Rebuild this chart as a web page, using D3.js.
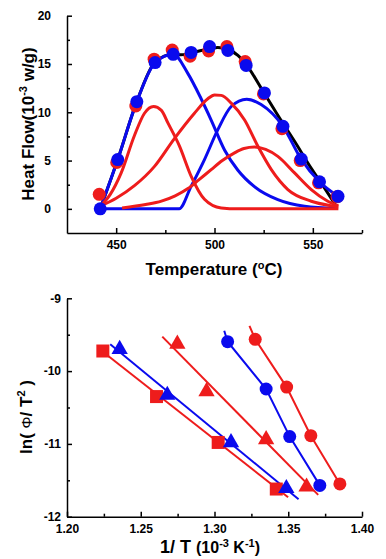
<!DOCTYPE html>
<html>
<head>
<meta charset="utf-8">
<script src="https://cdn.jsdelivr.net/npm/d3@7"></script>
<style>
  body { margin: 0; background: #fff; }
  svg text { font-family: "Liberation Sans", Arial, sans-serif; font-weight: bold; fill: #000; }
</style>
</head>
<body>
<div id="chart"></div>
<script>
/* ===== top panel: heat flow vs temperature ===== */
const tempC       = [441.9, 450.8, 460.5, 469.8, 479.0, 488.1, 497.5, 506.8, 516.1, 525.4, 534.8, 544.1, 553.4, 562.8];
const flowMeasured = [1.5, 4.8, 10.65, 15.5, 16.45, 15.8, 16.35, 16.8, 15.25, 11.9, 8.3, 5.0, 2.7, 1.25];
const flowFitted   = [0, 5.1, 11.1, 15.15, 16.0, 16.2, 16.8, 16.4, 14.85, 12.0, 8.55, 5.15, 2.8, 1.3];

// black envelope
const sumT = [441.9, 450.8, 460.5, 469.8, 479.0, 483.0, 493.2, 501.7, 506.8, 511.9, 517.0, 523.7, 532.2, 540.7, 549.2, 555.9, 561.9];
const sumV = [0, 5.1, 11.1, 15.2, 16.0, 15.95, 16.4, 16.7, 16.5, 15.9, 14.7, 12.5, 9.7, 7.0, 4.2, 2.17, 0.27];

// blue peaks
const blueAT = [441.9, 450.8, 460.5, 469.8, 479.0, 486.5, 493.2, 498.3, 505.1, 511.9, 520.3, 532.2, 545.8, 562.0];
const blueAV = [0, 5.1, 11.1, 15.15, 16.0, 14.0, 11.4, 9.2, 6.1, 4.0, 2.3, 0.95, 0.27, 0.05];
const blueBT = [441.9, 482.0, 488.1, 494.9, 501.7, 508.5, 516.4, 523.7, 534.8, 544.1, 553.4, 562.8];
const blueBV = [0, 0, 2.33, 5.1, 8.2, 10.6, 11.35, 10.8, 8.55, 5.15, 2.8, 1.3];

// red peaks
const red1T = [442.0, 447.0, 452.5, 459.3, 464.4, 469.0, 473.0, 476.3, 482.2, 488.1, 494.9, 503.4, 512.0, 563.0];
const red1V = [0.3, 1.5, 3.7, 7.6, 9.9, 10.6, 10.2, 8.9, 6.5, 3.4, 1.0, 0.1, 0, 0];
const red2T = [442.0, 450.0, 459.3, 469.5, 479.7, 489.8, 496.6, 500.0, 503.4, 508.5, 515.3, 522.0, 528.9, 537.3, 549.2, 561.0, 563.0];
const red2V = [0.3, 1.1, 2.4, 4.4, 7.3, 9.9, 11.4, 11.8, 11.75, 10.95, 9.2, 6.5, 4.06, 2.0, 0.79, 0.27, 0.2];
const red3T = [453.0, 465.0, 473.0, 480.0, 486.5, 492.0, 498.3, 504.0, 510.2, 515.0, 520.3, 526.0, 532.2, 540.7, 549.2, 557.6, 563.0];
const red3V = [0.1, 0.45, 0.8, 1.35, 2.1, 3.0, 4.06, 5.0, 5.8, 6.25, 6.4, 6.15, 5.43, 3.72, 2.0, 0.79, 0.3];

const topYTicks = [0, 5, 10, 15, 20];
const topYMinor = [2.5, 7.5, 12.5, 17.5];
const topXTicks = [450, 500, 550];
const topXMinor = [475, 525, 575];

/* ===== bottom panel: ln(phi/T^2) vs 1/T ===== */
const sqRedX  = [1.2243, 1.2607, 1.3025, 1.3419];
const sqRedY  = [-9.724, -10.35, -10.98, -11.62];
const sqRedLineX = [1.2215, 1.3499];
const sqRedLineY = [-9.69, -11.733];

const triBlueX = [1.2357, 1.2680, 1.3112, 1.3487];
const triBlueY = [-9.70, -10.33, -10.98, -11.61];
const triBlueLineX = [1.2293, 1.3570];
const triBlueLineY = [-9.632, -11.76];

const triRedX = [1.2748, 1.2946, 1.3350, 1.3624];
const triRedY = [-9.628, -10.28, -10.94, -11.59];
const triRedLineX = [1.2646, 1.3703];
const triRedLineY = [-9.527, -11.70];

const cirBlueX = [1.3089, 1.3350, 1.3510, 1.3714];
const cirBlueY = [-9.596, -10.246, -10.90, -11.57];
const cirBlueLineX = [1.3066, 1.3089, 1.3350, 1.3510, 1.3714];
const cirBlueLineY = [-9.445, -9.596, -10.246, -10.90, -11.57];

const cirRedX = [1.3276, 1.3489, 1.3653, 1.3850];
const cirRedY = [-9.563, -10.22, -10.887, -11.55];
const cirRedLineX = [1.3237, 1.3276, 1.3489, 1.3653, 1.3850];
const cirRedLineY = [-9.38, -9.563, -10.22, -10.887, -11.55];

const botYTicks = [-12, -11, -10, -9];
const botYMinor = [-11.5, -10.5, -9.5];
const botXTicks = [1.20, 1.25, 1.30, 1.35, 1.40];
const botXMinor = [1.225, 1.275, 1.325, 1.375];

const RED = '#ee1c1c';
const BLUE = '#0a0aee';

const zip = (xs, ys) => xs.map((x, i) => [x, ys[i]]);

const svg = d3.select('#chart')
    .append('svg')
    .attr('width', 386)
    .attr('height', 559);

function drawAxes(x, y, o) {
    const gy = svg.append('g').attr('transform', `translate(${x.range()[0]},0)`);
    gy.call(d3.axisLeft(y).tickValues(o.yTicks).tickSize(-5).tickSizeOuter(0)
        .tickPadding(o.yPad).tickFormat(d => String(d)));
    gy.append('g').call(d3.axisLeft(y).tickValues(o.yMinor).tickSize(-3).tickFormat(''))
        .select('.domain').remove();

    const gx = svg.append('g').attr('transform', `translate(0,${y.range()[0]})`);
    gx.call(d3.axisBottom(x).tickValues(o.xTicks).tickSize(-5).tickSizeOuter(0)
        .tickPadding(o.xPad).tickFormat(o.xFormat));
    gx.append('g').call(d3.axisBottom(x).tickValues(o.xMinor).tickSize(-3).tickFormat(''))
        .select('.domain').remove();

    [gy, gx].forEach(g => {
        g.selectAll('.domain, line').attr('stroke', '#000').attr('stroke-width', 1.5);
        g.selectAll('text').style('font-size', '12px');
    });
}

/* ---------- top panel ---------- */
const xTop = d3.scaleLinear().domain([425, 575]).range([67, 362]);
const yTop = d3.scaleLinear().domain([-2.5, 20]).range([233, 15.7]);

drawAxes(xTop, yTop, {
    yTicks: topYTicks, yMinor: topYMinor, yPad: 16,
    xTicks: topXTicks, xMinor: topXMinor, xPad: 7, xFormat: d3.format('d')
});

const lineTop = d3.line()
    .x(d => xTop(d[0]))
    .y(d => yTop(d[1]))
    .curve(d3.curveMonotoneX);

const topCurves = [
    { t: sumT, v: sumV, color: '#000' },
    { t: blueAT, v: blueAV, color: BLUE },
    { t: blueBT, v: blueBV, color: BLUE },
    { t: red1T, v: red1V, color: RED },
    { t: red2T, v: red2V, color: RED },
    { t: red3T, v: red3V, color: RED }
];

topCurves.forEach(c => {
    svg.append('path')
        .attr('d', lineTop(zip(c.t, c.v)))
        .attr('fill', 'none')
        .attr('stroke', c.color)
        .attr('stroke-width', 3)
        .attr('stroke-linejoin', 'round');
});

svg.append('g').selectAll('circle')
    .data(zip(tempC, flowMeasured))
    .enter().append('circle')
    .attr('cx', d => xTop(d[0]) - 1)
    .attr('cy', d => yTop(d[1]))
    .attr('r', 6.5)
    .attr('fill', RED);

svg.append('g').selectAll('circle')
    .data(zip(tempC, flowFitted))
    .enter().append('circle')
    .attr('cx', d => xTop(d[0]))
    .attr('cy', d => yTop(d[1]))
    .attr('r', 6.5)
    .attr('fill', BLUE);

// axis titles
const yTitleTop = svg.append('text')
    .attr('transform', 'translate(34,124) rotate(-90)')
    .attr('text-anchor', 'middle')
    .style('font-size', '17px');
yTitleTop.append('tspan').text('Heat Flow(10');
yTitleTop.append('tspan').attr('dy', -7).style('font-size', '11px').text('-3');
yTitleTop.append('tspan').attr('dy', 7).text('\u00a0w/g)');

const xTitleTop = svg.append('text')
    .attr('x', 214)
    .attr('y', 275)
    .attr('text-anchor', 'middle')
    .style('font-size', '17px');
xTitleTop.append('tspan').text('Temperature (');
xTitleTop.append('tspan').attr('dy', -6).style('font-size', '11px').text('o');
xTitleTop.append('tspan').attr('dy', 6).text('C)');

/* ---------- bottom panel ---------- */
const xBot = d3.scaleLinear().domain([1.20, 1.40]).range([67, 362]);
const yBot = d3.scaleLinear().domain([-12, -9]).range([516.7, 298.3]);

drawAxes(xBot, yBot, {
    yTicks: botYTicks, yMinor: botYMinor, yPad: 6,
    xTicks: botXTicks, xMinor: botXMinor, xPad: 8, xFormat: d3.format('.2f')
});

const lineBot = d3.line()
    .x(d => xBot(d[0]))
    .y(d => yBot(d[1]));

const botSeries = [
    { px: sqRedX, py: sqRedY, lx: sqRedLineX, ly: sqRedLineY, color: RED, shape: 'square' },
    { px: triBlueX, py: triBlueY, lx: triBlueLineX, ly: triBlueLineY, color: BLUE, shape: 'triangle' },
    { px: triRedX, py: triRedY, lx: triRedLineX, ly: triRedLineY, color: RED, shape: 'triangle' },
    { px: cirBlueX, py: cirBlueY, lx: cirBlueLineX, ly: cirBlueLineY, color: BLUE, shape: 'circle' },
    { px: cirRedX, py: cirRedY, lx: cirRedLineX, ly: cirRedLineY, color: RED, shape: 'circle' }
];

const symbols = {
    square: d3.symbol(d3.symbolSquare, 169),
    triangle: d3.symbol(d3.symbolTriangle, 115),
    circle: d3.symbol(d3.symbolCircle, Math.PI * 6.5 * 6.5)
};

botSeries.forEach(s => {
    svg.append('path')
        .attr('d', lineBot(zip(s.lx, s.ly)))
        .attr('fill', 'none')
        .attr('stroke', s.color)
        .attr('stroke-width', 2);
});

botSeries.forEach(s => {
    svg.append('g').selectAll('path')
        .data(zip(s.px, s.py))
        .enter().append('path')
        .attr('transform', d => `translate(${xBot(d[0])},${yBot(d[1])})`)
        .attr('d', symbols[s.shape])
        .attr('fill', s.color);
});

const yTitleBot = svg.append('text')
    .attr('transform', 'translate(32,417) rotate(-90)')
    .attr('text-anchor', 'middle')
    .style('font-size', '17px');
yTitleBot.append('tspan').text('ln(\u00a0');
yTitleBot.append('tspan').style('font-weight', 'normal').style('font-size', '15px').text('\u03a6');
yTitleBot.append('tspan').text('/ T');
yTitleBot.append('tspan').attr('dy', -7).style('font-size', '11px').text('2');
yTitleBot.append('tspan').attr('dy', 7).text('\u00a0)');

const xTitleBot = svg.append('text')
    .attr('x', 210)
    .attr('y', 553)
    .attr('text-anchor', 'middle')
    .style('font-size', '18px');
xTitleBot.append('tspan').text('1/ T ');
xTitleBot.append('tspan').style('font-size', '16px').text('(10');
xTitleBot.append('tspan').attr('dy', -6).style('font-size', '11px').text('-3');
xTitleBot.append('tspan').attr('dy', 6).style('font-size', '16px').text(' K');
xTitleBot.append('tspan').attr('dy', -6).style('font-size', '11px').text('-1');
xTitleBot.append('tspan').attr('dy', 6).style('font-size', '16px').text(')');
</script>
</body>
</html>
